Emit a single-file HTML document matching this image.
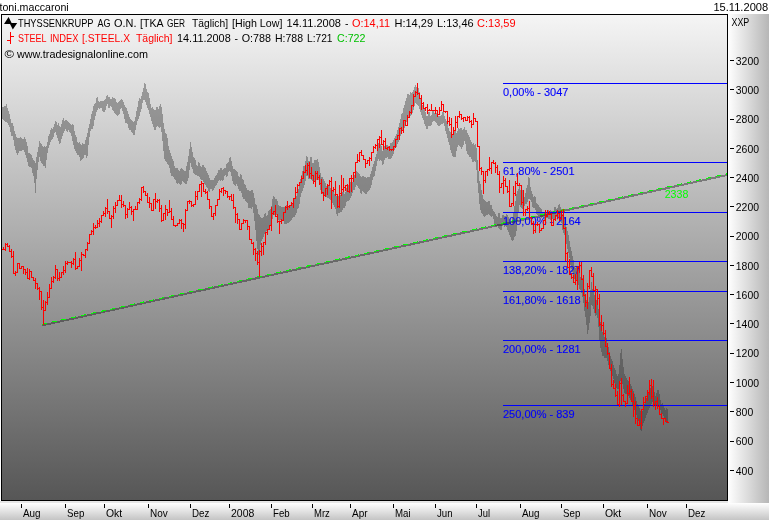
<!DOCTYPE html>
<html><head><meta charset="utf-8"><title>chart</title>
<style>
html,body{margin:0;padding:0;background:#fff;}
body{width:769px;height:520px;overflow:hidden;}
svg{display:block;will-change:transform;}
svg text{font-family:"Liberation Sans",sans-serif;font-size:11px;}
</style></head><body>
<svg width="769" height="520" viewBox="0 0 769 520">
<defs>
<linearGradient id="bg" x1="0" y1="0" x2="0" y2="1"><stop offset="0" stop-color="#f5f5f5"/><stop offset="1" stop-color="#565656"/></linearGradient>
<linearGradient id="ax" x1="0" y1="0" x2="1" y2="0"><stop offset="0" stop-color="#ffffff"/><stop offset="1" stop-color="#b6b6b6"/></linearGradient>
<linearGradient id="bx" x1="0" y1="0" x2="0" y2="1"><stop offset="0" stop-color="#ffffff"/><stop offset="1" stop-color="#c4c4c4"/></linearGradient>
<filter id="th" x="0" y="0" width="100%" height="100%" filterUnits="userSpaceOnUse" color-interpolation-filters="sRGB"><feComponentTransfer><feFuncA type="discrete" tableValues="0 0 1 1 1"/></feComponentTransfer></filter>
</defs>
<rect x="0" y="0" width="769" height="520" fill="#ffffff"/>
<rect x="728" y="14" width="41" height="489" fill="url(#ax)"/>
<rect x="0" y="501" width="728" height="2" fill="#e6e6e6"/>
<rect x="0" y="503" width="769" height="17" fill="url(#bx)"/>
<rect x="1" y="14" width="727" height="487" fill="url(#bg)"/>
<path shape-rendering="crispEdges" fill="#333" fill-opacity="0.4" d="M2,107.0 L3,107.0 L3,107.0 L4,107.0 L4,106.0 L5,106.0 L5,106.0 L6,106.0 L6,104.0 L7,104.0 L7,108.0 L8,108.0 L8,111.0 L9,111.0 L9,114.0 L10,114.0 L10,119.0 L11,119.0 L11,123.0 L12,123.0 L12,123.0 L13,123.0 L13,126.0 L14,126.0 L14,131.0 L15,131.0 L15,134.0 L16,134.0 L16,137.0 L17,137.0 L17,138.0 L18,138.0 L18,138.0 L19,138.0 L19,138.0 L20,138.0 L20,137.0 L21,137.0 L21,138.0 L22,138.0 L22,139.0 L23,139.0 L23,139.0 L24,139.0 L24,137.0 L25,137.0 L25,139.0 L26,139.0 L26,142.0 L27,142.0 L27,146.0 L28,146.0 L28,153.0 L29,153.0 L29,153.0 L30,153.0 L30,154.0 L31,154.0 L31,155.0 L32,155.0 L32,158.0 L33,158.0 L33,160.0 L34,160.0 L34,161.0 L35,161.0 L35,163.0 L36,163.0 L36,157.0 L37,157.0 L37,152.0 L38,152.0 L38,147.0 L39,147.0 L39,141.0 L40,141.0 L40,143.0 L41,143.0 L41,144.0 L42,144.0 L42,146.0 L43,146.0 L43,147.0 L44,147.0 L44,146.0 L45,146.0 L45,147.0 L46,147.0 L46,146.0 L47,146.0 L47,142.0 L48,142.0 L48,136.0 L49,136.0 L49,134.0 L50,134.0 L50,130.0 L51,130.0 L51,128.0 L52,128.0 L52,129.0 L53,129.0 L53,127.0 L54,127.0 L54,124.0 L55,124.0 L55,121.0 L56,121.0 L56,122.0 L57,122.0 L57,125.0 L58,125.0 L58,123.0 L59,123.0 L59,126.0 L60,126.0 L60,127.0 L61,127.0 L61,124.0 L62,124.0 L62,120.0 L63,120.0 L63,118.0 L64,118.0 L64,121.0 L65,121.0 L65,120.0 L66,120.0 L66,120.0 L67,120.0 L67,121.0 L68,121.0 L68,122.0 L69,122.0 L69,123.0 L70,123.0 L70,124.0 L71,124.0 L71,125.0 L72,125.0 L72,124.0 L73,124.0 L73,125.0 L74,125.0 L74,131.0 L75,131.0 L75,135.0 L76,135.0 L76,137.0 L77,137.0 L77,142.0 L78,142.0 L78,143.0 L79,143.0 L79,142.0 L80,142.0 L80,144.0 L81,144.0 L81,145.0 L82,145.0 L82,143.0 L83,143.0 L83,144.0 L84,144.0 L84,144.0 L85,144.0 L85,140.0 L86,140.0 L86,137.0 L87,137.0 L87,133.0 L88,133.0 L88,128.0 L89,128.0 L89,124.0 L90,124.0 L90,119.0 L91,119.0 L91,114.0 L92,114.0 L92,111.0 L93,111.0 L93,106.0 L94,106.0 L94,104.0 L95,104.0 L95,103.0 L96,103.0 L96,98.0 L97,98.0 L97,97.0 L98,97.0 L98,101.0 L99,101.0 L99,102.0 L100,102.0 L100,101.0 L101,101.0 L101,101.0 L102,101.0 L102,101.0 L103,101.0 L103,101.0 L104,101.0 L104,100.0 L105,100.0 L105,99.0 L106,99.0 L106,96.0 L107,96.0 L107,95.0 L108,95.0 L108,97.0 L109,97.0 L109,97.0 L110,97.0 L110,99.0 L111,99.0 L111,99.0 L112,99.0 L112,97.0 L113,97.0 L113,98.0 L114,98.0 L114,98.0 L115,98.0 L115,99.0 L116,99.0 L116,102.0 L117,102.0 L117,103.0 L118,103.0 L118,102.0 L119,102.0 L119,101.0 L120,101.0 L120,100.0 L121,100.0 L121,99.0 L122,99.0 L122,100.0 L123,100.0 L123,102.0 L124,102.0 L124,105.0 L125,105.0 L125,107.0 L126,107.0 L126,108.0 L127,108.0 L127,111.0 L128,111.0 L128,114.0 L129,114.0 L129,117.0 L130,117.0 L130,119.0 L131,119.0 L131,120.0 L132,120.0 L132,121.0 L133,121.0 L133,122.0 L134,122.0 L134,121.0 L135,121.0 L135,117.0 L136,117.0 L136,111.0 L137,111.0 L137,107.0 L138,107.0 L138,101.0 L139,101.0 L139,98.0 L140,98.0 L140,99.0 L141,99.0 L141,96.0 L142,96.0 L142,92.0 L143,92.0 L143,88.0 L144,88.0 L144,83.0 L145,83.0 L145,84.0 L146,84.0 L146,89.0 L147,89.0 L147,92.0 L148,92.0 L148,93.0 L149,93.0 L149,98.0 L150,98.0 L150,104.0 L151,104.0 L151,108.0 L152,108.0 L152,107.0 L153,107.0 L153,109.0 L154,109.0 L154,110.0 L155,110.0 L155,110.0 L156,110.0 L156,107.0 L157,107.0 L157,107.0 L158,107.0 L158,109.0 L159,109.0 L159,106.0 L160,106.0 L160,104.0 L161,104.0 L161,107.0 L162,107.0 L162,114.0 L163,114.0 L163,123.0 L164,123.0 L164,129.0 L165,129.0 L165,133.0 L166,133.0 L166,134.0 L167,134.0 L167,138.0 L168,138.0 L168,146.0 L169,146.0 L169,150.0 L170,150.0 L170,153.0 L171,153.0 L171,156.0 L172,156.0 L172,159.0 L173,159.0 L173,161.0 L174,161.0 L174,166.0 L175,166.0 L175,168.0 L176,168.0 L176,168.0 L177,168.0 L177,168.0 L178,168.0 L178,170.0 L179,170.0 L179,171.0 L180,171.0 L180,169.0 L181,169.0 L181,168.0 L182,168.0 L182,169.0 L183,169.0 L183,170.0 L184,170.0 L184,171.0 L185,171.0 L185,171.0 L186,171.0 L186,166.0 L187,166.0 L187,162.0 L188,162.0 L188,156.0 L189,156.0 L189,149.0 L190,149.0 L190,142.0 L191,142.0 L191,147.0 L192,147.0 L192,152.0 L193,152.0 L193,157.0 L194,157.0 L194,158.0 L195,158.0 L195,160.0 L196,160.0 L196,165.0 L197,165.0 L197,166.0 L198,166.0 L198,162.0 L199,162.0 L199,163.0 L200,163.0 L200,166.0 L201,166.0 L201,167.0 L202,167.0 L202,165.0 L203,165.0 L203,165.0 L204,165.0 L204,167.0 L205,167.0 L205,168.0 L206,168.0 L206,171.0 L207,171.0 L207,173.0 L208,173.0 L208,175.0 L209,175.0 L209,178.0 L210,178.0 L210,180.0 L211,180.0 L211,180.0 L212,180.0 L212,180.0 L213,180.0 L213,180.0 L214,180.0 L214,178.0 L215,178.0 L215,176.0 L216,176.0 L216,175.0 L217,175.0 L217,173.0 L218,173.0 L218,170.0 L219,170.0 L219,170.0 L220,170.0 L220,168.0 L221,168.0 L221,168.0 L222,168.0 L222,170.0 L223,170.0 L223,169.0 L224,169.0 L224,168.0 L225,168.0 L225,168.0 L226,168.0 L226,164.0 L227,164.0 L227,163.0 L228,163.0 L228,162.0 L229,162.0 L229,158.0 L230,158.0 L230,157.0 L231,157.0 L231,161.0 L232,161.0 L232,166.0 L233,166.0 L233,169.0 L234,169.0 L234,169.0 L235,169.0 L235,170.0 L236,170.0 L236,171.0 L237,171.0 L237,172.0 L238,172.0 L238,176.0 L239,176.0 L239,177.0 L240,177.0 L240,174.0 L241,174.0 L241,175.0 L242,175.0 L242,179.0 L243,179.0 L243,180.0 L244,180.0 L244,184.0 L245,184.0 L245,185.0 L246,185.0 L246,188.0 L247,188.0 L247,190.0 L248,190.0 L248,190.0 L249,190.0 L249,191.0 L250,191.0 L250,191.0 L251,191.0 L251,190.0 L252,190.0 L252,190.0 L253,190.0 L253,193.0 L254,193.0 L254,198.0 L255,198.0 L255,204.0 L256,204.0 L256,205.0 L257,205.0 L257,209.0 L258,209.0 L258,214.0 L259,214.0 L259,215.0 L260,215.0 L260,217.0 L261,217.0 L261,218.0 L262,218.0 L262,218.0 L263,218.0 L263,217.0 L264,217.0 L264,214.0 L265,214.0 L265,213.0 L266,213.0 L266,216.0 L267,216.0 L267,215.0 L268,215.0 L268,211.0 L269,211.0 L269,210.0 L270,210.0 L270,209.0 L271,209.0 L271,206.0 L272,206.0 L272,199.0 L273,199.0 L273,196.0 L274,196.0 L274,197.0 L275,197.0 L275,199.0 L276,199.0 L276,199.0 L277,199.0 L277,201.0 L278,201.0 L278,205.0 L279,205.0 L279,206.0 L280,206.0 L280,206.0 L281,206.0 L281,207.0 L282,207.0 L282,207.0 L283,207.0 L283,207.0 L284,207.0 L284,207.0 L285,207.0 L285,207.0 L286,207.0 L286,205.0 L287,205.0 L287,204.0 L288,204.0 L288,206.0 L289,206.0 L289,205.0 L290,205.0 L290,205.0 L291,205.0 L291,204.0 L292,204.0 L292,203.0 L293,203.0 L293,201.0 L294,201.0 L294,199.0 L295,199.0 L295,198.0 L296,198.0 L296,196.0 L297,196.0 L297,192.0 L298,192.0 L298,189.0 L299,189.0 L299,185.0 L300,185.0 L300,179.0 L301,179.0 L301,175.0 L302,175.0 L302,171.0 L303,171.0 L303,166.0 L304,166.0 L304,166.0 L305,166.0 L305,161.0 L306,161.0 L306,156.0 L307,156.0 L307,157.0 L308,157.0 L308,161.0 L309,161.0 L309,161.0 L310,161.0 L310,157.0 L311,157.0 L311,157.0 L312,157.0 L312,163.0 L313,163.0 L313,163.0 L314,163.0 L314,160.0 L315,160.0 L315,160.0 L316,160.0 L316,160.0 L317,160.0 L317,159.0 L318,159.0 L318,162.0 L319,162.0 L319,167.0 L320,167.0 L320,173.0 L321,173.0 L321,177.0 L322,177.0 L322,177.0 L323,177.0 L323,179.0 L324,179.0 L324,181.0 L325,181.0 L325,183.0 L326,183.0 L326,186.0 L327,186.0 L327,186.0 L328,186.0 L328,186.0 L329,186.0 L329,186.0 L330,186.0 L330,188.0 L331,188.0 L331,189.0 L332,189.0 L332,190.0 L333,190.0 L333,191.0 L334,191.0 L334,194.0 L335,194.0 L335,196.0 L336,196.0 L336,196.0 L337,196.0 L337,197.0 L338,197.0 L338,196.0 L339,196.0 L339,196.0 L340,196.0 L340,195.0 L341,195.0 L341,195.0 L342,195.0 L342,192.0 L343,192.0 L343,190.0 L344,190.0 L344,194.0 L345,194.0 L345,192.0 L346,192.0 L346,188.0 L347,188.0 L347,187.0 L348,187.0 L348,185.0 L349,185.0 L349,184.0 L350,184.0 L350,182.0 L351,182.0 L351,181.0 L352,181.0 L352,182.0 L353,182.0 L353,180.0 L354,180.0 L354,175.0 L355,175.0 L355,173.0 L356,173.0 L356,171.0 L357,171.0 L357,172.0 L358,172.0 L358,173.0 L359,173.0 L359,174.0 L360,174.0 L360,176.0 L361,176.0 L361,177.0 L362,177.0 L362,176.0 L363,176.0 L363,176.0 L364,176.0 L364,177.0 L365,177.0 L365,177.0 L366,177.0 L366,178.0 L367,178.0 L367,177.0 L368,177.0 L368,177.0 L369,177.0 L369,177.0 L370,177.0 L370,174.0 L371,174.0 L371,171.0 L372,171.0 L372,167.0 L373,167.0 L373,164.0 L374,164.0 L374,161.0 L375,161.0 L375,157.0 L376,157.0 L376,154.0 L377,154.0 L377,150.0 L378,150.0 L378,143.0 L379,143.0 L379,144.0 L380,144.0 L380,144.0 L381,144.0 L381,146.0 L382,146.0 L382,151.0 L383,151.0 L383,150.0 L384,150.0 L384,146.0 L385,146.0 L385,145.0 L386,145.0 L386,145.0 L387,145.0 L387,145.0 L388,145.0 L388,146.0 L389,146.0 L389,146.0 L390,146.0 L390,143.0 L391,143.0 L391,143.0 L392,143.0 L392,142.0 L393,142.0 L393,140.0 L394,140.0 L394,138.0 L395,138.0 L395,136.0 L396,136.0 L396,134.0 L397,134.0 L397,130.0 L398,130.0 L398,127.0 L399,127.0 L399,123.0 L400,123.0 L400,119.0 L401,119.0 L401,114.0 L402,114.0 L402,113.0 L403,113.0 L403,108.0 L404,108.0 L404,105.0 L405,105.0 L405,101.0 L406,101.0 L406,98.0 L407,98.0 L407,94.0 L408,94.0 L408,94.0 L409,94.0 L409,95.0 L410,95.0 L410,92.0 L411,92.0 L411,93.0 L412,93.0 L412,92.0 L413,92.0 L413,90.0 L414,90.0 L414,87.0 L415,87.0 L415,85.0 L416,85.0 L416,87.0 L417,87.0 L417,88.0 L418,88.0 L418,88.0 L419,88.0 L419,92.0 L420,92.0 L420,98.0 L421,98.0 L421,102.0 L422,102.0 L422,105.0 L423,105.0 L423,107.0 L424,107.0 L424,109.0 L425,109.0 L425,112.0 L426,112.0 L426,116.0 L427,116.0 L427,116.0 L428,116.0 L428,112.0 L429,112.0 L429,112.0 L430,112.0 L430,116.0 L431,116.0 L431,115.0 L432,115.0 L432,111.0 L433,111.0 L433,110.0 L434,110.0 L434,113.0 L435,113.0 L435,113.0 L436,113.0 L436,113.0 L437,113.0 L437,113.0 L438,113.0 L438,116.0 L439,116.0 L439,116.0 L440,116.0 L440,116.0 L441,116.0 L441,115.0 L442,115.0 L442,112.0 L443,112.0 L443,111.0 L444,111.0 L444,116.0 L445,116.0 L445,119.0 L446,119.0 L446,121.0 L447,121.0 L447,124.0 L448,124.0 L448,128.0 L449,128.0 L449,131.0 L450,131.0 L450,132.0 L451,132.0 L451,135.0 L452,135.0 L452,134.0 L453,134.0 L453,134.0 L454,134.0 L454,130.0 L455,130.0 L455,130.0 L456,130.0 L456,133.0 L457,133.0 L457,131.0 L458,131.0 L458,128.0 L459,128.0 L459,129.0 L460,129.0 L460,128.0 L461,128.0 L461,128.0 L462,128.0 L462,130.0 L463,130.0 L463,129.0 L464,129.0 L464,127.0 L465,127.0 L465,130.0 L466,130.0 L466,130.0 L467,130.0 L467,133.0 L468,133.0 L468,135.0 L469,135.0 L469,137.0 L470,137.0 L470,140.0 L471,140.0 L471,142.0 L472,142.0 L472,144.0 L473,144.0 L473,143.0 L474,143.0 L474,145.0 L475,145.0 L475,144.0 L476,144.0 L476,148.0 L477,148.0 L477,160.0 L478,160.0 L478,171.0 L479,171.0 L479,181.0 L480,181.0 L480,184.0 L481,184.0 L481,190.0 L482,190.0 L482,195.0 L483,195.0 L483,199.0 L484,199.0 L484,200.0 L485,200.0 L485,201.0 L486,201.0 L486,202.0 L487,202.0 L487,202.0 L488,202.0 L488,201.0 L489,201.0 L489,201.0 L490,201.0 L490,205.0 L491,205.0 L491,205.0 L492,205.0 L492,209.0 L493,209.0 L493,211.0 L494,211.0 L494,212.0 L495,212.0 L495,214.0 L496,214.0 L496,216.0 L497,216.0 L497,217.0 L498,217.0 L498,213.0 L499,213.0 L499,213.0 L500,213.0 L500,218.0 L501,218.0 L501,218.0 L502,218.0 L502,215.0 L503,215.0 L503,215.0 L504,215.0 L504,216.0 L505,216.0 L505,216.0 L506,216.0 L506,214.0 L507,214.0 L507,215.0 L508,215.0 L508,217.0 L509,217.0 L509,219.0 L510,219.0 L510,222.0 L511,222.0 L511,224.0 L512,224.0 L512,217.0 L513,217.0 L513,212.0 L514,212.0 L514,206.0 L515,206.0 L515,201.0 L516,201.0 L516,194.0 L517,194.0 L517,191.0 L518,191.0 L518,189.0 L519,189.0 L519,186.0 L520,186.0 L520,190.0 L521,190.0 L521,192.0 L522,192.0 L522,190.0 L523,190.0 L523,192.0 L524,192.0 L524,197.0 L525,197.0 L525,193.0 L526,193.0 L526,188.0 L527,188.0 L527,185.0 L528,185.0 L528,177.0 L529,177.0 L529,178.0 L530,178.0 L530,187.0 L531,187.0 L531,191.0 L532,191.0 L532,194.0 L533,194.0 L533,197.0 L534,197.0 L534,196.0 L535,196.0 L535,197.0 L536,197.0 L536,203.0 L537,203.0 L537,204.0 L538,204.0 L538,205.0 L539,205.0 L539,207.0 L540,207.0 L540,208.0 L541,208.0 L541,209.0 L542,209.0 L542,213.0 L543,213.0 L543,213.0 L544,213.0 L544,212.0 L545,212.0 L545,212.0 L546,212.0 L546,212.0 L547,212.0 L547,212.0 L548,212.0 L548,210.0 L549,210.0 L549,211.0 L550,211.0 L550,210.0 L551,210.0 L551,211.0 L552,211.0 L552,211.0 L553,211.0 L553,211.0 L554,211.0 L554,207.0 L555,207.0 L555,207.0 L556,207.0 L556,209.0 L557,209.0 L557,208.0 L558,208.0 L558,205.0 L559,205.0 L559,204.0 L560,204.0 L560,207.0 L561,207.0 L561,209.0 L562,209.0 L562,214.0 L563,214.0 L563,216.0 L564,216.0 L564,217.0 L565,217.0 L565,222.0 L566,222.0 L566,227.0 L567,227.0 L567,231.0 L568,231.0 L568,235.0 L569,235.0 L569,241.0 L570,241.0 L570,247.0 L571,247.0 L571,251.0 L572,251.0 L572,256.0 L573,256.0 L573,260.0 L574,260.0 L574,266.0 L575,266.0 L575,268.0 L576,268.0 L576,266.0 L577,266.0 L577,267.0 L578,267.0 L578,270.0 L579,270.0 L579,272.0 L580,272.0 L580,277.0 L581,277.0 L581,279.0 L582,279.0 L582,278.0 L583,278.0 L583,284.0 L584,284.0 L584,289.0 L585,289.0 L585,294.0 L586,294.0 L586,300.0 L587,300.0 L587,306.0 L588,306.0 L588,302.0 L589,302.0 L589,297.0 L590,297.0 L590,290.0 L591,290.0 L591,282.0 L592,282.0 L592,289.0 L593,289.0 L593,292.0 L594,292.0 L594,295.0 L595,295.0 L595,298.0 L596,298.0 L596,300.0 L597,300.0 L597,303.0 L598,303.0 L598,309.0 L599,309.0 L599,317.0 L600,317.0 L600,322.0 L601,322.0 L601,327.0 L602,327.0 L602,332.0 L603,332.0 L603,335.0 L604,335.0 L604,337.0 L605,337.0 L605,338.0 L606,338.0 L606,338.0 L607,338.0 L607,343.0 L608,343.0 L608,347.0 L609,347.0 L609,352.0 L610,352.0 L610,356.0 L611,356.0 L611,359.0 L612,359.0 L612,361.0 L613,361.0 L613,365.0 L614,365.0 L614,368.0 L615,368.0 L615,370.0 L616,370.0 L616,374.0 L617,374.0 L617,376.0 L618,376.0 L618,374.0 L619,374.0 L619,365.0 L620,365.0 L620,353.0 L621,353.0 L621,349.0 L622,349.0 L622,359.0 L623,359.0 L623,367.0 L624,367.0 L624,374.0 L625,374.0 L625,376.0 L626,376.0 L626,378.0 L627,378.0 L627,380.0 L628,380.0 L628,381.0 L629,381.0 L629,382.0 L630,382.0 L630,384.0 L631,384.0 L631,386.0 L632,386.0 L632,389.0 L633,389.0 L633,391.0 L634,391.0 L634,394.0 L635,394.0 L635,397.0 L636,397.0 L636,401.0 L637,401.0 L637,404.0 L638,404.0 L638,405.0 L639,405.0 L639,408.0 L640,408.0 L640,411.0 L641,411.0 L641,412.0 L642,412.0 L642,411.0 L643,411.0 L643,409.0 L644,409.0 L644,404.0 L645,404.0 L645,401.0 L646,401.0 L646,398.0 L647,398.0 L647,394.0 L648,394.0 L648,392.0 L649,392.0 L649,389.0 L650,389.0 L650,388.0 L651,388.0 L651,387.0 L652,387.0 L652,386.0 L653,386.0 L653,388.0 L654,388.0 L654,392.0 L655,392.0 L655,396.0 L656,396.0 L656,393.0 L657,393.0 L657,390.0 L658,390.0 L658,390.0 L659,390.0 L659,394.0 L660,394.0 L660,400.0 L661,400.0 L661,404.0 L662,404.0 L662,403.0 L663,403.0 L663,405.0 L664,405.0 L664,408.0 L665,408.0 L665,410.0 L666,410.0 L666,408.0 L667,408.0 L667,409.0 L668,409.0 L668,423.0 L667,423.0 L667,423.0 L666,423.0 L666,421.0 L665,421.0 L665,419.0 L664,419.0 L664,416.0 L663,416.0 L663,414.0 L662,414.0 L662,413.0 L661,413.0 L661,410.0 L660,410.0 L660,407.0 L659,407.0 L659,405.0 L658,405.0 L658,405.0 L657,405.0 L657,406.0 L656,406.0 L656,406.0 L655,406.0 L655,404.0 L654,404.0 L654,402.0 L653,402.0 L653,402.0 L652,402.0 L652,404.0 L651,404.0 L651,406.0 L650,406.0 L650,408.0 L649,408.0 L649,410.0 L648,410.0 L648,413.0 L647,413.0 L647,415.0 L646,415.0 L646,418.0 L645,418.0 L645,421.0 L644,421.0 L644,423.0 L643,423.0 L643,426.0 L642,426.0 L642,431.0 L641,431.0 L641,430.0 L640,430.0 L640,424.0 L639,424.0 L639,421.0 L638,421.0 L638,418.0 L637,418.0 L637,415.0 L636,415.0 L636,413.0 L635,413.0 L635,410.0 L634,410.0 L634,407.0 L633,407.0 L633,405.0 L632,405.0 L632,402.0 L631,402.0 L631,400.0 L630,400.0 L630,398.0 L629,398.0 L629,396.0 L628,396.0 L628,395.0 L627,395.0 L627,394.0 L626,394.0 L626,394.0 L625,394.0 L625,393.0 L624,393.0 L624,389.0 L623,389.0 L623,384.0 L622,384.0 L622,380.0 L621,380.0 L621,381.0 L620,381.0 L620,386.0 L619,386.0 L619,389.0 L618,389.0 L618,389.0 L617,389.0 L617,388.0 L616,388.0 L616,385.0 L615,385.0 L615,383.0 L614,383.0 L614,379.0 L613,379.0 L613,376.0 L612,376.0 L612,374.0 L611,374.0 L611,371.0 L610,371.0 L610,368.0 L609,368.0 L609,365.0 L608,365.0 L608,361.0 L607,361.0 L607,358.0 L606,358.0 L606,358.0 L605,358.0 L605,358.0 L604,358.0 L604,356.0 L603,356.0 L603,356.0 L602,356.0 L602,352.0 L601,352.0 L601,348.0 L600,348.0 L600,341.0 L599,341.0 L599,327.0 L598,327.0 L598,318.0 L597,318.0 L597,315.0 L596,315.0 L596,316.0 L595,316.0 L595,313.0 L594,313.0 L594,309.0 L593,309.0 L593,306.0 L592,306.0 L592,305.0 L591,305.0 L591,316.0 L590,316.0 L590,323.0 L589,323.0 L589,330.0 L588,330.0 L588,334.0 L587,334.0 L587,325.0 L586,325.0 L586,317.0 L585,317.0 L585,311.0 L584,311.0 L584,303.0 L583,303.0 L583,297.0 L582,297.0 L582,293.0 L581,293.0 L581,290.0 L580,290.0 L580,289.0 L579,289.0 L579,285.0 L578,285.0 L578,283.0 L577,283.0 L577,281.0 L576,281.0 L576,280.0 L575,280.0 L575,279.0 L574,279.0 L574,276.0 L573,276.0 L573,272.0 L572,272.0 L572,269.0 L571,269.0 L571,265.0 L570,265.0 L570,258.0 L569,258.0 L569,253.0 L568,253.0 L568,249.0 L567,249.0 L567,244.0 L566,244.0 L566,240.0 L565,240.0 L565,235.0 L564,235.0 L564,233.0 L563,233.0 L563,230.0 L562,230.0 L562,223.0 L561,223.0 L561,220.0 L560,220.0 L560,217.0 L559,217.0 L559,217.0 L558,217.0 L558,217.0 L557,217.0 L557,217.0 L556,217.0 L556,219.0 L555,219.0 L555,219.0 L554,219.0 L554,219.0 L553,219.0 L553,219.0 L552,219.0 L552,220.0 L551,220.0 L551,220.0 L550,220.0 L550,219.0 L549,219.0 L549,219.0 L548,219.0 L548,218.0 L547,218.0 L547,218.0 L546,218.0 L546,220.0 L545,220.0 L545,220.0 L544,220.0 L544,217.0 L543,217.0 L543,217.0 L542,217.0 L542,218.0 L541,218.0 L541,217.0 L540,217.0 L540,215.0 L539,215.0 L539,215.0 L538,215.0 L538,215.0 L537,215.0 L537,214.0 L536,214.0 L536,210.0 L535,210.0 L535,208.0 L534,208.0 L534,208.0 L533,208.0 L533,207.0 L532,207.0 L532,202.0 L531,202.0 L531,200.0 L530,200.0 L530,199.0 L529,199.0 L529,199.0 L528,199.0 L528,202.0 L527,202.0 L527,204.0 L526,204.0 L526,204.0 L525,204.0 L525,206.0 L524,206.0 L524,209.0 L523,209.0 L523,209.0 L522,209.0 L522,208.0 L521,208.0 L521,207.0 L520,207.0 L520,205.0 L519,205.0 L519,213.0 L518,213.0 L518,221.0 L517,221.0 L517,231.0 L516,231.0 L516,236.0 L515,236.0 L515,237.0 L514,237.0 L514,240.0 L513,240.0 L513,241.0 L512,241.0 L512,240.0 L511,240.0 L511,237.0 L510,237.0 L510,235.0 L509,235.0 L509,232.0 L508,232.0 L508,230.0 L507,230.0 L507,227.0 L506,227.0 L506,226.0 L505,226.0 L505,227.0 L504,227.0 L504,225.0 L503,225.0 L503,226.0 L502,226.0 L502,230.0 L501,230.0 L501,230.0 L500,230.0 L500,229.0 L499,229.0 L499,228.0 L498,228.0 L498,226.0 L497,226.0 L497,226.0 L496,226.0 L496,226.0 L495,226.0 L495,224.0 L494,224.0 L494,219.0 L493,219.0 L493,216.0 L492,216.0 L492,217.0 L491,217.0 L491,216.0 L490,216.0 L490,215.0 L489,215.0 L489,214.0 L488,214.0 L488,215.0 L487,215.0 L487,215.0 L486,215.0 L486,216.0 L485,216.0 L485,217.0 L484,217.0 L484,216.0 L483,216.0 L483,214.0 L482,214.0 L482,213.0 L481,213.0 L481,210.0 L480,210.0 L480,204.0 L479,204.0 L479,193.0 L478,193.0 L478,183.0 L477,183.0 L477,170.0 L476,170.0 L476,162.0 L475,162.0 L475,161.0 L474,161.0 L474,162.0 L473,162.0 L473,162.0 L472,162.0 L472,159.0 L471,159.0 L471,157.0 L470,157.0 L470,157.0 L469,157.0 L469,155.0 L468,155.0 L468,154.0 L467,154.0 L467,151.0 L466,151.0 L466,144.0 L465,144.0 L465,141.0 L464,141.0 L464,145.0 L463,145.0 L463,147.0 L462,147.0 L462,149.0 L461,149.0 L461,147.0 L460,147.0 L460,146.0 L459,146.0 L459,145.0 L458,145.0 L458,147.0 L457,147.0 L457,151.0 L456,151.0 L456,157.0 L455,157.0 L455,157.0 L454,157.0 L454,157.0 L453,157.0 L453,156.0 L452,156.0 L452,153.0 L451,153.0 L451,150.0 L450,150.0 L450,145.0 L449,145.0 L449,142.0 L448,142.0 L448,138.0 L447,138.0 L447,134.0 L446,134.0 L446,131.0 L445,131.0 L445,126.0 L444,126.0 L444,123.0 L443,123.0 L443,124.0 L442,124.0 L442,124.0 L441,124.0 L441,125.0 L440,125.0 L440,126.0 L439,126.0 L439,126.0 L438,126.0 L438,125.0 L437,125.0 L437,123.0 L436,123.0 L436,122.0 L435,122.0 L435,121.0 L434,121.0 L434,121.0 L433,121.0 L433,122.0 L432,122.0 L432,125.0 L431,125.0 L431,126.0 L430,126.0 L430,126.0 L429,126.0 L429,126.0 L428,126.0 L428,129.0 L427,129.0 L427,129.0 L426,129.0 L426,126.0 L425,126.0 L425,124.0 L424,124.0 L424,120.0 L423,120.0 L423,118.0 L422,118.0 L422,115.0 L421,115.0 L421,112.0 L420,112.0 L420,109.0 L419,109.0 L419,106.0 L418,106.0 L418,105.0 L417,105.0 L417,104.0 L416,104.0 L416,103.0 L415,103.0 L415,106.0 L414,106.0 L414,110.0 L413,110.0 L413,113.0 L412,113.0 L412,115.0 L411,115.0 L411,116.0 L410,116.0 L410,116.0 L409,116.0 L409,117.0 L408,117.0 L408,120.0 L407,120.0 L407,122.0 L406,122.0 L406,125.0 L405,125.0 L405,128.0 L404,128.0 L404,129.0 L403,129.0 L403,131.0 L402,131.0 L402,134.0 L401,134.0 L401,136.0 L400,136.0 L400,139.0 L399,139.0 L399,142.0 L398,142.0 L398,144.0 L397,144.0 L397,147.0 L396,147.0 L396,148.0 L395,148.0 L395,150.0 L394,150.0 L394,154.0 L393,154.0 L393,156.0 L392,156.0 L392,158.0 L391,158.0 L391,159.0 L390,159.0 L390,159.0 L389,159.0 L389,159.0 L388,159.0 L388,157.0 L387,157.0 L387,158.0 L386,158.0 L386,158.0 L385,158.0 L385,160.0 L384,160.0 L384,164.0 L383,164.0 L383,165.0 L382,165.0 L382,161.0 L381,161.0 L381,160.0 L380,160.0 L380,161.0 L379,161.0 L379,159.0 L378,159.0 L378,161.0 L377,161.0 L377,166.0 L376,166.0 L376,171.0 L375,171.0 L375,176.0 L374,176.0 L374,177.0 L373,177.0 L373,180.0 L372,180.0 L372,185.0 L371,185.0 L371,188.0 L370,188.0 L370,190.0 L369,190.0 L369,191.0 L368,191.0 L368,192.0 L367,192.0 L367,194.0 L366,194.0 L366,194.0 L365,194.0 L365,193.0 L364,193.0 L364,192.0 L363,192.0 L363,191.0 L362,191.0 L362,194.0 L361,194.0 L361,193.0 L360,193.0 L360,189.0 L359,189.0 L359,188.0 L358,188.0 L358,186.0 L357,186.0 L357,185.0 L356,185.0 L356,187.0 L355,187.0 L355,190.0 L354,190.0 L354,190.0 L353,190.0 L353,193.0 L352,193.0 L352,196.0 L351,196.0 L351,198.0 L350,198.0 L350,200.0 L349,200.0 L349,201.0 L348,201.0 L348,201.0 L347,201.0 L347,202.0 L346,202.0 L346,206.0 L345,206.0 L345,208.0 L344,208.0 L344,208.0 L343,208.0 L343,210.0 L342,210.0 L342,212.0 L341,212.0 L341,212.0 L340,212.0 L340,213.0 L339,213.0 L339,213.0 L338,213.0 L338,216.0 L337,216.0 L337,214.0 L336,214.0 L336,209.0 L335,209.0 L335,207.0 L334,207.0 L334,205.0 L333,205.0 L333,203.0 L332,203.0 L332,201.0 L331,201.0 L331,200.0 L330,200.0 L330,199.0 L329,199.0 L329,198.0 L328,198.0 L328,198.0 L327,198.0 L327,197.0 L326,197.0 L326,196.0 L325,196.0 L325,195.0 L324,195.0 L324,195.0 L323,195.0 L323,194.0 L322,194.0 L322,194.0 L321,194.0 L321,190.0 L320,190.0 L320,184.0 L319,184.0 L319,180.0 L318,180.0 L318,179.0 L317,179.0 L317,180.0 L316,180.0 L316,182.0 L315,182.0 L315,182.0 L314,182.0 L314,181.0 L313,181.0 L313,181.0 L312,181.0 L312,180.0 L311,180.0 L311,179.0 L310,179.0 L310,179.0 L309,179.0 L309,179.0 L308,179.0 L308,176.0 L307,176.0 L307,176.0 L306,176.0 L306,181.0 L305,181.0 L305,185.0 L304,185.0 L304,188.0 L303,188.0 L303,191.0 L302,191.0 L302,193.0 L301,193.0 L301,197.0 L300,197.0 L300,204.0 L299,204.0 L299,208.0 L298,208.0 L298,209.0 L297,209.0 L297,213.0 L296,213.0 L296,215.0 L295,215.0 L295,217.0 L294,217.0 L294,217.0 L293,217.0 L293,218.0 L292,218.0 L292,220.0 L291,220.0 L291,221.0 L290,221.0 L290,222.0 L289,222.0 L289,223.0 L288,223.0 L288,223.0 L287,223.0 L287,224.0 L286,224.0 L286,224.0 L285,224.0 L285,224.0 L284,224.0 L284,221.0 L283,221.0 L283,221.0 L282,221.0 L282,221.0 L281,221.0 L281,220.0 L280,220.0 L280,221.0 L279,221.0 L279,220.0 L278,220.0 L278,216.0 L277,216.0 L277,215.0 L276,215.0 L276,217.0 L275,217.0 L275,215.0 L274,215.0 L274,215.0 L273,215.0 L273,219.0 L272,219.0 L272,222.0 L271,222.0 L271,226.0 L270,226.0 L270,229.0 L269,229.0 L269,230.0 L268,230.0 L268,230.0 L267,230.0 L267,231.0 L266,231.0 L266,232.0 L265,232.0 L265,234.0 L264,234.0 L264,237.0 L263,237.0 L263,239.0 L262,239.0 L262,241.0 L261,241.0 L261,245.0 L260,245.0 L260,251.0 L259,251.0 L259,255.0 L258,255.0 L258,249.0 L257,249.0 L257,241.0 L256,241.0 L256,230.0 L255,230.0 L255,221.0 L254,221.0 L254,213.0 L253,213.0 L253,207.0 L252,207.0 L252,209.0 L251,209.0 L251,208.0 L250,208.0 L250,208.0 L249,208.0 L249,208.0 L248,208.0 L248,203.0 L247,203.0 L247,202.0 L246,202.0 L246,201.0 L245,201.0 L245,199.0 L244,199.0 L244,199.0 L243,199.0 L243,197.0 L242,197.0 L242,193.0 L241,193.0 L241,191.0 L240,191.0 L240,191.0 L239,191.0 L239,189.0 L238,189.0 L238,186.0 L237,186.0 L237,184.0 L236,184.0 L236,186.0 L235,186.0 L235,185.0 L234,185.0 L234,184.0 L233,184.0 L233,181.0 L232,181.0 L232,176.0 L231,176.0 L231,172.0 L230,172.0 L230,171.0 L229,171.0 L229,172.0 L228,172.0 L228,176.0 L227,176.0 L227,177.0 L226,177.0 L226,175.0 L225,175.0 L225,176.0 L224,176.0 L224,180.0 L223,180.0 L223,181.0 L222,181.0 L222,180.0 L221,180.0 L221,181.0 L220,181.0 L220,180.0 L219,180.0 L219,181.0 L218,181.0 L218,183.0 L217,183.0 L217,185.0 L216,185.0 L216,186.0 L215,186.0 L215,188.0 L214,188.0 L214,190.0 L213,190.0 L213,191.0 L212,191.0 L212,189.0 L211,189.0 L211,189.0 L210,189.0 L210,192.0 L209,192.0 L209,191.0 L208,191.0 L208,188.0 L207,188.0 L207,187.0 L206,187.0 L206,185.0 L205,185.0 L205,184.0 L204,184.0 L204,182.0 L203,182.0 L203,180.0 L202,180.0 L202,180.0 L201,180.0 L201,179.0 L200,179.0 L200,177.0 L199,177.0 L199,176.0 L198,176.0 L198,176.0 L197,176.0 L197,175.0 L196,175.0 L196,175.0 L195,175.0 L195,174.0 L194,174.0 L194,173.0 L193,173.0 L193,169.0 L192,169.0 L192,167.0 L191,167.0 L191,163.0 L190,163.0 L190,170.0 L189,170.0 L189,178.0 L188,178.0 L188,181.0 L187,181.0 L187,184.0 L186,184.0 L186,184.0 L185,184.0 L185,183.0 L184,183.0 L184,182.0 L183,182.0 L183,181.0 L182,181.0 L182,184.0 L181,184.0 L181,185.0 L180,185.0 L180,184.0 L179,184.0 L179,183.0 L178,183.0 L178,184.0 L177,184.0 L177,183.0 L176,183.0 L176,180.0 L175,180.0 L175,179.0 L174,179.0 L174,177.0 L173,177.0 L173,176.0 L172,176.0 L172,176.0 L171,176.0 L171,173.0 L170,173.0 L170,168.0 L169,168.0 L169,165.0 L168,165.0 L168,164.0 L167,164.0 L167,162.0 L166,162.0 L166,161.0 L165,161.0 L165,159.0 L164,159.0 L164,151.0 L163,151.0 L163,141.0 L162,141.0 L162,132.0 L161,132.0 L161,127.0 L160,127.0 L160,128.0 L159,128.0 L159,127.0 L158,127.0 L158,126.0 L157,126.0 L157,127.0 L156,127.0 L156,130.0 L155,130.0 L155,130.0 L154,130.0 L154,127.0 L153,127.0 L153,124.0 L152,124.0 L152,121.0 L151,121.0 L151,117.0 L150,117.0 L150,114.0 L149,114.0 L149,110.0 L148,110.0 L148,108.0 L147,108.0 L147,105.0 L146,105.0 L146,102.0 L145,102.0 L145,100.0 L144,100.0 L144,100.0 L143,100.0 L143,103.0 L142,103.0 L142,109.0 L141,109.0 L141,112.0 L140,112.0 L140,116.0 L139,116.0 L139,119.0 L138,119.0 L138,121.0 L137,121.0 L137,125.0 L136,125.0 L136,130.0 L135,130.0 L135,135.0 L134,135.0 L134,135.0 L133,135.0 L133,133.0 L132,133.0 L132,132.0 L131,132.0 L131,130.0 L130,130.0 L130,130.0 L129,130.0 L129,128.0 L128,128.0 L128,124.0 L127,124.0 L127,123.0 L126,123.0 L126,123.0 L125,123.0 L125,119.0 L124,119.0 L124,114.0 L123,114.0 L123,111.0 L122,111.0 L122,108.0 L121,108.0 L121,109.0 L120,109.0 L120,114.0 L119,114.0 L119,115.0 L118,115.0 L118,116.0 L117,116.0 L117,115.0 L116,115.0 L116,114.0 L115,114.0 L115,113.0 L114,113.0 L114,111.0 L113,111.0 L113,110.0 L112,110.0 L112,107.0 L111,107.0 L111,106.0 L110,106.0 L110,108.0 L109,108.0 L109,108.0 L108,108.0 L108,104.0 L107,104.0 L107,106.0 L106,106.0 L106,110.0 L105,110.0 L105,112.0 L104,112.0 L104,112.0 L103,112.0 L103,111.0 L102,111.0 L102,108.0 L101,108.0 L101,108.0 L100,108.0 L100,109.0 L99,109.0 L99,108.0 L98,108.0 L98,110.0 L97,110.0 L97,112.0 L96,112.0 L96,116.0 L95,116.0 L95,120.0 L94,120.0 L94,126.0 L93,126.0 L93,129.0 L92,129.0 L92,129.0 L91,129.0 L91,131.0 L90,131.0 L90,137.0 L89,137.0 L89,145.0 L88,145.0 L88,156.0 L87,156.0 L87,158.0 L86,158.0 L86,155.0 L85,155.0 L85,155.0 L84,155.0 L84,158.0 L83,158.0 L83,159.0 L82,159.0 L82,160.0 L81,160.0 L81,161.0 L80,161.0 L80,157.0 L79,157.0 L79,155.0 L78,155.0 L78,155.0 L77,155.0 L77,153.0 L76,153.0 L76,151.0 L75,151.0 L75,149.0 L74,149.0 L74,145.0 L73,145.0 L73,141.0 L72,141.0 L72,136.0 L71,136.0 L71,133.0 L70,133.0 L70,132.0 L69,132.0 L69,130.0 L68,130.0 L68,132.0 L67,132.0 L67,131.0 L66,131.0 L66,129.0 L65,129.0 L65,131.0 L64,131.0 L64,133.0 L63,133.0 L63,136.0 L62,136.0 L62,139.0 L61,139.0 L61,143.0 L60,143.0 L60,144.0 L59,144.0 L59,141.0 L58,141.0 L58,138.0 L57,138.0 L57,135.0 L56,135.0 L56,132.0 L55,132.0 L55,133.0 L54,133.0 L54,137.0 L53,137.0 L53,139.0 L52,139.0 L52,140.0 L51,140.0 L51,142.0 L50,142.0 L50,145.0 L49,145.0 L49,148.0 L48,148.0 L48,153.0 L47,153.0 L47,160.0 L46,160.0 L46,168.0 L45,168.0 L45,166.0 L44,166.0 L44,166.0 L43,166.0 L43,164.0 L42,164.0 L42,163.0 L41,163.0 L41,161.0 L40,161.0 L40,157.0 L39,157.0 L39,162.0 L38,162.0 L38,170.0 L37,170.0 L37,179.0 L36,179.0 L36,193.0 L35,193.0 L35,183.0 L34,183.0 L34,176.0 L33,176.0 L33,173.0 L32,173.0 L32,168.0 L31,168.0 L31,167.0 L30,167.0 L30,167.0 L29,167.0 L29,166.0 L28,166.0 L28,162.0 L27,162.0 L27,158.0 L26,158.0 L26,155.0 L25,155.0 L25,152.0 L24,152.0 L24,150.0 L23,150.0 L23,150.0 L22,150.0 L22,151.0 L21,151.0 L21,151.0 L20,151.0 L20,151.0 L19,151.0 L19,153.0 L18,153.0 L18,155.0 L17,155.0 L17,153.0 L16,153.0 L16,150.0 L15,150.0 L15,146.0 L14,146.0 L14,140.0 L13,140.0 L13,136.0 L12,136.0 L12,136.0 L11,136.0 L11,132.0 L10,132.0 L10,127.0 L9,127.0 L9,125.0 L8,125.0 L8,123.0 L7,123.0 L7,122.0 L6,122.0 L6,122.0 L5,122.0 L5,121.0 L4,121.0 L4,120.0 L3,120.0 L3,119.0 L2,119.0Z"/>
<g shape-rendering="crispEdges"><line x1="42" y1="325.40000000000003" x2="727" y2="175.0" stroke="#000" stroke-opacity="0.36" stroke-width="2"/><line x1="42" y1="324.3" x2="727" y2="173.89999999999998" stroke="#00ff00" stroke-width="1" stroke-dasharray="5 5"/></g>
<g shape-rendering="crispEdges" stroke="#0000ff" stroke-width="1"><line x1="503" y1="83.5" x2="727" y2="83.5"/><line x1="503" y1="162.5" x2="727" y2="162.5"/><line x1="503" y1="212.5" x2="727" y2="212.5"/><line x1="503" y1="261.5" x2="727" y2="261.5"/><line x1="503" y1="291.5" x2="727" y2="291.5"/><line x1="503" y1="340.5" x2="727" y2="340.5"/><line x1="503" y1="405.5" x2="727" y2="405.5"/></g>
<g fill="#0000ff" stroke="#0000ff" stroke-width="0.12"><text x="503" y="96">0,00% - 3047</text><text x="503" y="175">61,80% - 2501</text><text x="503" y="225">100,00% - 2164</text><text x="503" y="274">138,20% - 1827</text><text x="503" y="304">161,80% - 1618</text><text x="503" y="353">200,00% - 1281</text><text x="503" y="418">250,00% - 839</text></g>
<path shape-rendering="crispEdges" fill="none" stroke="#ff0000" stroke-width="1" d="M3.5,247V250M2,249.5h1.5M3.5,249.5h1.5M5.5,243V251M4,249.5h1.5M5.5,244.5h1.5M7.5,243V247M6,244.5h1.5M7.5,246.5h1.5M9.5,245V252M8,246.5h1.5M9.5,251.5h1.5M11.5,249V258M10,251.5h1.5M11.5,256.5h1.5M13.5,251V274M12,256.5h1.5M13.5,273.5h1.5M15.5,271V276M14,273.5h1.5M15.5,272.5h1.5M17.5,263V273M16,272.5h1.5M17.5,263.5h1.5M19.5,263V269M18,263.5h1.5M19.5,268.5h1.5M21.5,266V269M20,268.5h1.5M21.5,266.5h1.5M23.5,266V274M22,266.5h1.5M23.5,269.5h1.5M25.5,269V275M24,269.5h1.5M25.5,272.5h1.5M27.5,268V279M26,272.5h1.5M27.5,278.5h1.5M29.5,269V280M28,278.5h1.5M29.5,271.5h1.5M31.5,271V278M30,271.5h1.5M31.5,277.5h1.5M33.5,277V281M32,277.5h1.5M33.5,280.5h1.5M35.5,278V289M34,280.5h1.5M35.5,283.5h1.5M37.5,283V290M36,283.5h1.5M37.5,288.5h1.5M39.5,287V300M38,288.5h1.5M39.5,291.5h1.5M41.5,291V310M40,291.5h1.5M41.5,307.5h1.5M43.5,300V325M42,307.5h1.5M43.5,310.5h1.5M45.5,301V311M44,310.5h1.5M45.5,302.5h1.5M47.5,292V305M46,302.5h1.5M47.5,297.5h1.5M49.5,284V298M48,297.5h1.5M49.5,288.5h1.5M51.5,277V289M50,288.5h1.5M51.5,281.5h1.5M53.5,276V283M52,281.5h1.5M53.5,277.5h1.5M55.5,265V279M54,277.5h1.5M55.5,269.5h1.5M57.5,269V281M56,269.5h1.5M57.5,278.5h1.5M59.5,272V281M58,278.5h1.5M59.5,277.5h1.5M61.5,272V278M60,277.5h1.5M61.5,272.5h1.5M63.5,266V275M62,272.5h1.5M63.5,270.5h1.5M65.5,261V273M64,270.5h1.5M65.5,263.5h1.5M67.5,261V265M66,263.5h1.5M67.5,262.5h1.5M69.5,262V263M68,262.5h1.5M69.5,262.5h1.5M71.5,261V268M70,262.5h1.5M71.5,263.5h1.5M73.5,258V265M72,263.5h1.5M73.5,259.5h1.5M75.5,252V270M74,259.5h1.5M75.5,268.5h1.5M77.5,266V269M76,268.5h1.5M77.5,266.5h1.5M79.5,258V267M78,266.5h1.5M79.5,260.5h1.5M81.5,252V271M80,260.5h1.5M81.5,254.5h1.5M83.5,254V256M82,254.5h1.5M83.5,255.5h1.5M85.5,249V258M84,255.5h1.5M85.5,249.5h1.5M87.5,242V251M86,249.5h1.5M87.5,243.5h1.5M89.5,234V244M88,243.5h1.5M89.5,234.5h1.5M91.5,230V235M90,234.5h1.5M91.5,231.5h1.5M93.5,223V235M92,231.5h1.5M93.5,227.5h1.5M95.5,225V229M94,227.5h1.5M95.5,227.5h1.5M97.5,220V228M96,227.5h1.5M97.5,223.5h1.5M99.5,218V227M98,223.5h1.5M99.5,221.5h1.5M101.5,215V223M100,221.5h1.5M101.5,215.5h1.5M103.5,211V216M102,215.5h1.5M103.5,213.5h1.5M105.5,207V217M104,213.5h1.5M105.5,208.5h1.5M107.5,199V214M106,208.5h1.5M107.5,211.5h1.5M109.5,211V219M108,211.5h1.5M109.5,218.5h1.5M111.5,215V228M110,218.5h1.5M111.5,216.5h1.5M113.5,206V219M112,216.5h1.5M113.5,208.5h1.5M115.5,202V213M114,208.5h1.5M115.5,205.5h1.5M117.5,200V206M116,205.5h1.5M117.5,200.5h1.5M119.5,195V201M118,200.5h1.5M119.5,200.5h1.5M121.5,195V208M120,200.5h1.5M121.5,204.5h1.5M123.5,201V207M122,204.5h1.5M123.5,205.5h1.5M125.5,205V219M124,205.5h1.5M125.5,214.5h1.5M127.5,208V218M126,214.5h1.5M127.5,209.5h1.5M129.5,202V210M128,209.5h1.5M129.5,207.5h1.5M131.5,206V215M130,207.5h1.5M131.5,211.5h1.5M133.5,209V221M132,211.5h1.5M133.5,209.5h1.5M135.5,206V210M134,209.5h1.5M135.5,209.5h1.5M137.5,202V210M136,209.5h1.5M137.5,202.5h1.5M139.5,198V204M138,202.5h1.5M139.5,199.5h1.5M141.5,187V201M140,199.5h1.5M141.5,187.5h1.5M143.5,186V193M142,187.5h1.5M143.5,191.5h1.5M145.5,191V196M144,191.5h1.5M145.5,195.5h1.5M147.5,193V203M146,195.5h1.5M147.5,202.5h1.5M149.5,197V208M148,202.5h1.5M149.5,203.5h1.5M151.5,203V211M150,203.5h1.5M151.5,210.5h1.5M153.5,199V211M152,210.5h1.5M153.5,199.5h1.5M155.5,193V209M154,199.5h1.5M155.5,201.5h1.5M157.5,199V203M156,201.5h1.5M157.5,200.5h1.5M159.5,199V212M158,200.5h1.5M159.5,208.5h1.5M161.5,205V222M160,208.5h1.5M161.5,220.5h1.5M163.5,213V221M162,220.5h1.5M163.5,213.5h1.5M165.5,205V220M164,213.5h1.5M165.5,209.5h1.5M167.5,209V216M166,209.5h1.5M167.5,212.5h1.5M169.5,200V213M168,212.5h1.5M169.5,211.5h1.5M171.5,208V220M170,211.5h1.5M171.5,219.5h1.5M173.5,216V226M172,219.5h1.5M173.5,225.5h1.5M175.5,225V227M174,225.5h1.5M175.5,225.5h1.5M177.5,223V226M176,225.5h1.5M177.5,223.5h1.5M179.5,219V224M178,223.5h1.5M179.5,220.5h1.5M181.5,219V229M180,220.5h1.5M181.5,223.5h1.5M183.5,223V232M182,223.5h1.5M183.5,224.5h1.5M185.5,209V229M184,224.5h1.5M185.5,210.5h1.5M187.5,201V211M186,210.5h1.5M187.5,201.5h1.5M189.5,200V204M188,201.5h1.5M189.5,201.5h1.5M191.5,201V207M190,201.5h1.5M191.5,205.5h1.5M193.5,204V207M192,205.5h1.5M193.5,204.5h1.5M195.5,191V205M194,204.5h1.5M195.5,196.5h1.5M197.5,191V200M196,196.5h1.5M197.5,191.5h1.5M199.5,184V192M198,191.5h1.5M199.5,184.5h1.5M201.5,181V197M200,184.5h1.5M201.5,183.5h1.5M203.5,183V192M202,183.5h1.5M203.5,191.5h1.5M205.5,189V194M204,191.5h1.5M205.5,192.5h1.5M207.5,191V200M206,192.5h1.5M207.5,199.5h1.5M209.5,199V209M208,199.5h1.5M209.5,206.5h1.5M211.5,206V217M210,206.5h1.5M211.5,216.5h1.5M213.5,213V220M212,216.5h1.5M213.5,213.5h1.5M215.5,205V216M214,213.5h1.5M215.5,205.5h1.5M217.5,199V206M216,205.5h1.5M217.5,199.5h1.5M219.5,189V200M218,199.5h1.5M219.5,191.5h1.5M221.5,188V193M220,191.5h1.5M221.5,188.5h1.5M223.5,187V196M222,188.5h1.5M223.5,190.5h1.5M225.5,190V194M224,190.5h1.5M225.5,191.5h1.5M227.5,191V198M226,191.5h1.5M227.5,196.5h1.5M229.5,196V200M228,196.5h1.5M229.5,196.5h1.5M231.5,194V201M230,196.5h1.5M231.5,200.5h1.5M233.5,194V209M232,200.5h1.5M233.5,207.5h1.5M235.5,207V223M234,207.5h1.5M235.5,214.5h1.5M237.5,213V224M236,214.5h1.5M237.5,219.5h1.5M239.5,219V230M238,219.5h1.5M239.5,229.5h1.5M241.5,223V230M240,229.5h1.5M241.5,223.5h1.5M243.5,219V224M242,223.5h1.5M243.5,220.5h1.5M245.5,220V223M244,220.5h1.5M245.5,220.5h1.5M247.5,220V230M246,220.5h1.5M247.5,226.5h1.5M249.5,226V240M248,226.5h1.5M249.5,239.5h1.5M251.5,239V244M250,239.5h1.5M251.5,243.5h1.5M253.5,242V255M252,243.5h1.5M253.5,249.5h1.5M255.5,248V261M254,249.5h1.5M255.5,253.5h1.5M257.5,251V265M256,253.5h1.5M257.5,262.5h1.5M259.5,250V277M258,262.5h1.5M259.5,251.5h1.5M261.5,243V256M260,251.5h1.5M261.5,246.5h1.5M263.5,242V255M262,246.5h1.5M263.5,242.5h1.5M265.5,232V245M264,242.5h1.5M265.5,232.5h1.5M267.5,229V235M266,232.5h1.5M267.5,229.5h1.5M269.5,225V230M268,229.5h1.5M269.5,225.5h1.5M271.5,207V231M270,225.5h1.5M271.5,213.5h1.5M273.5,211V215M272,213.5h1.5M273.5,211.5h1.5M275.5,205V217M274,211.5h1.5M275.5,216.5h1.5M277.5,214V223M276,216.5h1.5M277.5,221.5h1.5M279.5,221V234M278,221.5h1.5M279.5,221.5h1.5M281.5,219V224M280,221.5h1.5M281.5,220.5h1.5M283.5,212V221M282,220.5h1.5M283.5,212.5h1.5M285.5,206V213M284,212.5h1.5M285.5,207.5h1.5M287.5,201V210M286,207.5h1.5M287.5,206.5h1.5M289.5,205V208M288,206.5h1.5M289.5,205.5h1.5M291.5,202V206M290,205.5h1.5M291.5,203.5h1.5M293.5,198V208M292,203.5h1.5M293.5,198.5h1.5M295.5,187V199M294,198.5h1.5M295.5,192.5h1.5M297.5,184V193M296,192.5h1.5M297.5,185.5h1.5M299.5,182V186M298,185.5h1.5M299.5,182.5h1.5M301.5,176V183M300,182.5h1.5M301.5,178.5h1.5M303.5,171V179M302,178.5h1.5M303.5,172.5h1.5M305.5,165V173M304,172.5h1.5M305.5,170.5h1.5M307.5,163V175M306,170.5h1.5M307.5,165.5h1.5M309.5,162V178M308,165.5h1.5M309.5,173.5h1.5M311.5,167V179M310,173.5h1.5M311.5,175.5h1.5M313.5,175V184M312,175.5h1.5M313.5,181.5h1.5M315.5,171V187M314,181.5h1.5M315.5,173.5h1.5M317.5,171V180M316,173.5h1.5M317.5,177.5h1.5M319.5,175V185M318,177.5h1.5M319.5,183.5h1.5M321.5,179V194M320,183.5h1.5M321.5,192.5h1.5M323.5,192V201M322,192.5h1.5M323.5,195.5h1.5M325.5,188V197M324,195.5h1.5M325.5,188.5h1.5M327.5,184V195M326,188.5h1.5M327.5,185.5h1.5M329.5,180V186M328,185.5h1.5M329.5,181.5h1.5M331.5,177V209M330,181.5h1.5M331.5,190.5h1.5M333.5,187V192M332,190.5h1.5M333.5,189.5h1.5M335.5,181V196M334,189.5h1.5M335.5,194.5h1.5M337.5,194V208M336,194.5h1.5M337.5,206.5h1.5M339.5,185V208M338,206.5h1.5M339.5,193.5h1.5M341.5,175V196M340,193.5h1.5M341.5,189.5h1.5M343.5,178V192M342,189.5h1.5M343.5,187.5h1.5M345.5,185V191M344,187.5h1.5M345.5,185.5h1.5M347.5,184V192M346,185.5h1.5M347.5,191.5h1.5M349.5,178V193M348,191.5h1.5M349.5,178.5h1.5M351.5,175V192M350,178.5h1.5M351.5,178.5h1.5M353.5,172V182M352,178.5h1.5M353.5,172.5h1.5M355.5,162V178M354,172.5h1.5M355.5,162.5h1.5M357.5,154V163M356,162.5h1.5M357.5,160.5h1.5M359.5,152V162M358,160.5h1.5M359.5,152.5h1.5M361.5,150V156M360,152.5h1.5M361.5,155.5h1.5M363.5,155V160M362,155.5h1.5M363.5,159.5h1.5M365.5,159V168M364,159.5h1.5M365.5,163.5h1.5M367.5,160V164M366,163.5h1.5M367.5,160.5h1.5M369.5,157V166M368,160.5h1.5M369.5,158.5h1.5M371.5,152V161M370,158.5h1.5M371.5,152.5h1.5M373.5,146V153M372,152.5h1.5M373.5,147.5h1.5M375.5,144V149M374,147.5h1.5M375.5,145.5h1.5M377.5,139V151M376,145.5h1.5M377.5,139.5h1.5M379.5,136V148M378,139.5h1.5M379.5,137.5h1.5M381.5,130V145M380,137.5h1.5M381.5,144.5h1.5M383.5,140V150M382,144.5h1.5M383.5,141.5h1.5M385.5,138V149M384,141.5h1.5M385.5,148.5h1.5M387.5,147V150M386,148.5h1.5M387.5,147.5h1.5M389.5,146V151M388,147.5h1.5M389.5,149.5h1.5M391.5,149V151M390,149.5h1.5M391.5,149.5h1.5M393.5,146V151M392,149.5h1.5M393.5,146.5h1.5M395.5,139V148M394,146.5h1.5M395.5,139.5h1.5M397.5,135V140M396,139.5h1.5M397.5,135.5h1.5M399.5,128V140M398,135.5h1.5M399.5,128.5h1.5M401.5,127V134M400,128.5h1.5M401.5,130.5h1.5M403.5,120V133M402,130.5h1.5M403.5,120.5h1.5M405.5,120V126M404,120.5h1.5M405.5,125.5h1.5M407.5,115V126M406,125.5h1.5M407.5,117.5h1.5M409.5,111V118M408,117.5h1.5M409.5,112.5h1.5M411.5,105V114M410,112.5h1.5M411.5,105.5h1.5M413.5,94V107M412,105.5h1.5M413.5,96.5h1.5M415.5,91V97M414,96.5h1.5M415.5,92.5h1.5M417.5,83V95M416,92.5h1.5M417.5,93.5h1.5M419.5,93V99M418,93.5h1.5M419.5,98.5h1.5M421.5,95V110M420,98.5h1.5M421.5,103.5h1.5M423.5,102V109M422,103.5h1.5M423.5,108.5h1.5M425.5,107V111M424,108.5h1.5M425.5,107.5h1.5M427.5,104V114M426,107.5h1.5M427.5,110.5h1.5M429.5,109V111M428,110.5h1.5M429.5,110.5h1.5M431.5,104V111M430,110.5h1.5M431.5,110.5h1.5M433.5,110V111M432,110.5h1.5M433.5,110.5h1.5M435.5,107V114M434,110.5h1.5M435.5,110.5h1.5M437.5,110V117M436,110.5h1.5M437.5,114.5h1.5M439.5,107V115M438,114.5h1.5M439.5,110.5h1.5M441.5,101V111M440,110.5h1.5M441.5,104.5h1.5M443.5,104V112M442,104.5h1.5M443.5,111.5h1.5M445.5,111V113M444,111.5h1.5M445.5,111.5h1.5M447.5,111V124M446,111.5h1.5M447.5,121.5h1.5M449.5,117V126M448,121.5h1.5M449.5,124.5h1.5M451.5,118V138M450,124.5h1.5M451.5,134.5h1.5M453.5,127V135M452,134.5h1.5M453.5,130.5h1.5M455.5,116V131M454,130.5h1.5M455.5,122.5h1.5M457.5,116V128M456,122.5h1.5M457.5,116.5h1.5M459.5,111V118M458,116.5h1.5M459.5,114.5h1.5M461.5,114V120M460,114.5h1.5M461.5,118.5h1.5M463.5,117V122M462,118.5h1.5M463.5,117.5h1.5M465.5,117V121M464,117.5h1.5M465.5,120.5h1.5M467.5,116V121M466,120.5h1.5M467.5,117.5h1.5M469.5,116V123M468,117.5h1.5M469.5,121.5h1.5M471.5,120V128M470,121.5h1.5M471.5,124.5h1.5M473.5,113V125M472,124.5h1.5M473.5,118.5h1.5M475.5,118V122M474,118.5h1.5M475.5,121.5h1.5M477.5,121V147M476,121.5h1.5M477.5,146.5h1.5M479.5,146V171M478,146.5h1.5M479.5,168.5h1.5M481.5,167V175M480,168.5h1.5M481.5,171.5h1.5M483.5,171V194M482,171.5h1.5M483.5,180.5h1.5M485.5,171V183M484,180.5h1.5M485.5,171.5h1.5M487.5,169V176M486,171.5h1.5M487.5,169.5h1.5M489.5,157V171M488,169.5h1.5M489.5,168.5h1.5M491.5,162V174M490,168.5h1.5M491.5,162.5h1.5M493.5,160V164M492,162.5h1.5M493.5,163.5h1.5M495.5,162V173M494,163.5h1.5M495.5,167.5h1.5M497.5,165V175M496,167.5h1.5M497.5,174.5h1.5M499.5,171V193M498,174.5h1.5M499.5,187.5h1.5M501.5,183V188M500,187.5h1.5M501.5,183.5h1.5M503.5,176V194M502,183.5h1.5M503.5,180.5h1.5M505.5,178V187M504,180.5h1.5M505.5,186.5h1.5M507.5,186V193M506,186.5h1.5M507.5,191.5h1.5M509.5,180V207M508,191.5h1.5M509.5,206.5h1.5M511.5,203V207M510,206.5h1.5M511.5,203.5h1.5M513.5,186V206M512,203.5h1.5M513.5,193.5h1.5M515.5,181V196M514,193.5h1.5M515.5,183.5h1.5M517.5,173V186M516,183.5h1.5M517.5,185.5h1.5M519.5,183V186M518,185.5h1.5M519.5,185.5h1.5M521.5,185V205M520,185.5h1.5M521.5,202.5h1.5M523.5,190V216M522,202.5h1.5M523.5,212.5h1.5M525.5,209V216M524,212.5h1.5M525.5,209.5h1.5M527.5,206V211M526,209.5h1.5M527.5,208.5h1.5M529.5,201V218M528,208.5h1.5M529.5,217.5h1.5M531.5,217V225M530,217.5h1.5M531.5,223.5h1.5M533.5,221V234M532,223.5h1.5M533.5,230.5h1.5M535.5,224V233M534,230.5h1.5M535.5,224.5h1.5M537.5,222V226M536,224.5h1.5M537.5,224.5h1.5M539.5,224V233M538,224.5h1.5M539.5,230.5h1.5M541.5,228V231M540,230.5h1.5M541.5,228.5h1.5M543.5,220V229M542,228.5h1.5M543.5,220.5h1.5M545.5,210V225M544,220.5h1.5M545.5,216.5h1.5M547.5,210V217M546,216.5h1.5M547.5,214.5h1.5M549.5,211V215M548,214.5h1.5M549.5,214.5h1.5M551.5,213V226M550,214.5h1.5M551.5,225.5h1.5M553.5,219V226M552,225.5h1.5M553.5,219.5h1.5M555.5,215V221M554,219.5h1.5M555.5,215.5h1.5M557.5,210V219M556,215.5h1.5M557.5,213.5h1.5M559.5,213V221M558,213.5h1.5M559.5,218.5h1.5M561.5,210V220M560,218.5h1.5M561.5,215.5h1.5M563.5,209V229M562,215.5h1.5M563.5,228.5h1.5M565.5,227V261M564,228.5h1.5M565.5,253.5h1.5M567.5,252V268M566,253.5h1.5M567.5,267.5h1.5M569.5,259V275M568,267.5h1.5M569.5,274.5h1.5M571.5,273V279M570,274.5h1.5M571.5,277.5h1.5M573.5,275V283M572,277.5h1.5M573.5,282.5h1.5M575.5,274V285M574,282.5h1.5M575.5,280.5h1.5M577.5,266V290M576,280.5h1.5M577.5,267.5h1.5M579.5,262V273M578,267.5h1.5M579.5,265.5h1.5M581.5,262V280M580,265.5h1.5M581.5,279.5h1.5M583.5,275V296M582,279.5h1.5M583.5,295.5h1.5M585.5,294V307M584,295.5h1.5M585.5,302.5h1.5M587.5,283V309M586,302.5h1.5M587.5,286.5h1.5M589.5,270V289M588,286.5h1.5M589.5,270.5h1.5M591.5,267V277M590,270.5h1.5M591.5,276.5h1.5M593.5,273V291M592,276.5h1.5M593.5,290.5h1.5M595.5,286V313M594,290.5h1.5M595.5,289.5h1.5M597.5,289V305M596,289.5h1.5M597.5,298.5h1.5M599.5,294V326M598,298.5h1.5M599.5,324.5h1.5M601.5,315V331M600,324.5h1.5M601.5,325.5h1.5M603.5,322V335M602,325.5h1.5M603.5,333.5h1.5M605.5,330V347M604,333.5h1.5M605.5,346.5h1.5M607.5,343V355M606,346.5h1.5M607.5,353.5h1.5M609.5,353V369M608,353.5h1.5M609.5,368.5h1.5M611.5,364V387M610,368.5h1.5M611.5,384.5h1.5M613.5,380V389M612,384.5h1.5M613.5,388.5h1.5M615.5,384V397M614,388.5h1.5M615.5,395.5h1.5M617.5,391V405M616,395.5h1.5M617.5,404.5h1.5M619.5,381V407M618,404.5h1.5M619.5,383.5h1.5M621.5,378V405M620,383.5h1.5M621.5,395.5h1.5M623.5,394V402M622,395.5h1.5M623.5,401.5h1.5M625.5,401V407M624,401.5h1.5M625.5,403.5h1.5M627.5,385V404M626,403.5h1.5M627.5,393.5h1.5M629.5,377V395M628,393.5h1.5M629.5,391.5h1.5M631.5,389V402M630,391.5h1.5M631.5,401.5h1.5M633.5,393V417M632,401.5h1.5M633.5,405.5h1.5M635.5,401V424M634,405.5h1.5M635.5,418.5h1.5M637.5,418V426M636,418.5h1.5M637.5,425.5h1.5M639.5,419V426M638,425.5h1.5M639.5,423.5h1.5M641.5,409V429M640,423.5h1.5M641.5,409.5h1.5M643.5,397V410M642,409.5h1.5M643.5,402.5h1.5M645.5,396V403M644,402.5h1.5M645.5,396.5h1.5M647.5,390V401M646,396.5h1.5M647.5,392.5h1.5M649.5,380V395M648,392.5h1.5M649.5,385.5h1.5M651.5,379V399M650,385.5h1.5M651.5,396.5h1.5M653.5,380V407M652,396.5h1.5M653.5,404.5h1.5M655.5,401V410M654,404.5h1.5M655.5,401.5h1.5M657.5,397V409M656,401.5h1.5M657.5,406.5h1.5M659.5,405V415M658,406.5h1.5M659.5,414.5h1.5M661.5,413V419M660,414.5h1.5M661.5,418.5h1.5M663.5,418V425M662,418.5h1.5M663.5,418.5h1.5M665.5,418V422M664,418.5h1.5M665.5,421.5h1.5M667.5,421V423M666,421.5h1.5M667.5,422.5h1.5"/>
<text x="664.7" y="198" fill="#00ff00" textLength="23.6" lengthAdjust="spacingAndGlyphs">2338</text>
<g shape-rendering="crispEdges" fill="#000"><rect x="1" y="14" width="727" height="1"/><rect x="1" y="14" width="1" height="487"/><rect x="727" y="14" width="1" height="487"/><rect x="1" y="500" width="727" height="1"/></g>
<g fill="#000"><text x="731.5" y="26" textLength="17.8" lengthAdjust="spacingAndGlyphs">XXP</text><rect x="730" y="60" width="4" height="1" shape-rendering="crispEdges"/><text x="735.8" y="64.7" textLength="23.2" lengthAdjust="spacingAndGlyphs">3200</text><rect x="730" y="89" width="4" height="1" shape-rendering="crispEdges"/><text x="735.8" y="94.0" textLength="23.2" lengthAdjust="spacingAndGlyphs">3000</text><rect x="730" y="119" width="4" height="1" shape-rendering="crispEdges"/><text x="735.8" y="123.2" textLength="23.2" lengthAdjust="spacingAndGlyphs">2800</text><rect x="730" y="148" width="4" height="1" shape-rendering="crispEdges"/><text x="735.8" y="152.5" textLength="23.2" lengthAdjust="spacingAndGlyphs">2600</text><rect x="730" y="177" width="4" height="1" shape-rendering="crispEdges"/><text x="735.8" y="181.8" textLength="23.2" lengthAdjust="spacingAndGlyphs">2400</text><rect x="730" y="206" width="4" height="1" shape-rendering="crispEdges"/><text x="735.8" y="211.0" textLength="23.2" lengthAdjust="spacingAndGlyphs">2200</text><rect x="730" y="236" width="4" height="1" shape-rendering="crispEdges"/><text x="735.8" y="240.3" textLength="23.2" lengthAdjust="spacingAndGlyphs">2000</text><rect x="730" y="265" width="4" height="1" shape-rendering="crispEdges"/><text x="735.8" y="269.6" textLength="23.2" lengthAdjust="spacingAndGlyphs">1800</text><rect x="730" y="294" width="4" height="1" shape-rendering="crispEdges"/><text x="735.8" y="298.9" textLength="23.2" lengthAdjust="spacingAndGlyphs">1600</text><rect x="730" y="323" width="4" height="1" shape-rendering="crispEdges"/><text x="735.8" y="328.1" textLength="23.2" lengthAdjust="spacingAndGlyphs">1400</text><rect x="730" y="353" width="4" height="1" shape-rendering="crispEdges"/><text x="735.8" y="357.4" textLength="23.2" lengthAdjust="spacingAndGlyphs">1200</text><rect x="730" y="382" width="4" height="1" shape-rendering="crispEdges"/><text x="735.8" y="386.7" textLength="23.2" lengthAdjust="spacingAndGlyphs">1000</text><rect x="730" y="411" width="4" height="1" shape-rendering="crispEdges"/><text x="735.8" y="415.9" textLength="17.4" lengthAdjust="spacingAndGlyphs">800</text><rect x="730" y="441" width="4" height="1" shape-rendering="crispEdges"/><text x="735.8" y="445.2" textLength="17.4" lengthAdjust="spacingAndGlyphs">600</text><rect x="730" y="470" width="4" height="1" shape-rendering="crispEdges"/><text x="735.8" y="474.5" textLength="17.4" lengthAdjust="spacingAndGlyphs">400</text></g>
<g fill="#000"><rect x="21" y="504" width="1" height="4" shape-rendering="crispEdges"/><text x="23" y="517" textLength="17.6" lengthAdjust="spacingAndGlyphs">Aug</text><rect x="65" y="504" width="1" height="4" shape-rendering="crispEdges"/><text x="67" y="517" textLength="17.3" lengthAdjust="spacingAndGlyphs">Sep</text><rect x="104" y="504" width="1" height="4" shape-rendering="crispEdges"/><text x="106" y="517" textLength="16.2" lengthAdjust="spacingAndGlyphs">Okt</text><rect x="148" y="504" width="1" height="4" shape-rendering="crispEdges"/><text x="150" y="517" textLength="17.7" lengthAdjust="spacingAndGlyphs">Nov</text><rect x="190" y="504" width="1" height="4" shape-rendering="crispEdges"/><text x="192" y="517" textLength="17.3" lengthAdjust="spacingAndGlyphs">Dez</text><rect x="229" y="504" width="1" height="4" shape-rendering="crispEdges"/><text x="231" y="517" textLength="23.3" lengthAdjust="spacingAndGlyphs">2008</text><rect x="271" y="504" width="1" height="4" shape-rendering="crispEdges"/><text x="273" y="517" textLength="16.6" lengthAdjust="spacingAndGlyphs">Feb</text><rect x="312" y="504" width="1" height="4" shape-rendering="crispEdges"/><text x="314" y="517" textLength="15.8" lengthAdjust="spacingAndGlyphs">Mrz</text><rect x="350" y="504" width="1" height="4" shape-rendering="crispEdges"/><text x="352" y="517" textLength="15.6" lengthAdjust="spacingAndGlyphs">Apr</text><rect x="393" y="504" width="1" height="4" shape-rendering="crispEdges"/><text x="395" y="517" textLength="15.6" lengthAdjust="spacingAndGlyphs">Mai</text><rect x="435" y="504" width="1" height="4" shape-rendering="crispEdges"/><text x="437" y="517" textLength="15.6" lengthAdjust="spacingAndGlyphs">Jun</text><rect x="476" y="504" width="1" height="4" shape-rendering="crispEdges"/><text x="478" y="517" textLength="12" lengthAdjust="spacingAndGlyphs">Jul</text><rect x="520" y="504" width="1" height="4" shape-rendering="crispEdges"/><text x="522" y="517" textLength="17.6" lengthAdjust="spacingAndGlyphs">Aug</text><rect x="561" y="504" width="1" height="4" shape-rendering="crispEdges"/><text x="563" y="517" textLength="17.3" lengthAdjust="spacingAndGlyphs">Sep</text><rect x="603" y="504" width="1" height="4" shape-rendering="crispEdges"/><text x="605" y="517" textLength="16.2" lengthAdjust="spacingAndGlyphs">Okt</text><rect x="647" y="504" width="1" height="4" shape-rendering="crispEdges"/><text x="649" y="517" textLength="17.7" lengthAdjust="spacingAndGlyphs">Nov</text><rect x="686" y="504" width="1" height="4" shape-rendering="crispEdges"/><text x="688" y="517" textLength="17.3" lengthAdjust="spacingAndGlyphs">Dez</text></g>
<text x="-0.5" y="10.5" fill="#000" textLength="69.2" lengthAdjust="spacingAndGlyphs">toni.maccaroni</text><text x="713.4" y="10.5" fill="#000" textLength="54.8" lengthAdjust="spacingAndGlyphs">15.11.2008</text><path d="M4,24 L8.6,17 L11.6,23 L17.2,23 L12.8,29.6 L10,24Z" fill="#000"/>
<path shape-rendering="crispEdges" stroke="#ff0000" stroke-width="1" fill="none" d="M10.5,32V44M7,40.5h3.5M10.5,36.5h3.5"/>
<text x="18" y="27" fill="#000" textLength="75.5" lengthAdjust="spacingAndGlyphs">THYSSENKRUPP</text><text x="97.4" y="27" fill="#000" textLength="13" lengthAdjust="spacingAndGlyphs">AG</text><text x="114" y="27" fill="#000" textLength="22.5" lengthAdjust="spacingAndGlyphs">O.N.</text><text x="140" y="27" fill="#000" textLength="23.5" lengthAdjust="spacingAndGlyphs">[TKA</text><text x="167" y="27" fill="#000" textLength="18" lengthAdjust="spacingAndGlyphs">GER</text><text x="192" y="27" fill="#000" textLength="36" lengthAdjust="spacingAndGlyphs">Täglich]</text><text x="232" y="27" fill="#000" textLength="50.4" lengthAdjust="spacingAndGlyphs">[High Low]</text><text x="286.6" y="27" fill="#000" textLength="54.4" lengthAdjust="spacingAndGlyphs">14.11.2008</text><text x="345" y="27" fill="#000" textLength="3.5" lengthAdjust="spacingAndGlyphs">-</text><text x="352" y="27" fill="#ff0000" textLength="38" lengthAdjust="spacingAndGlyphs">O:14,11</text><text x="394.5" y="27" fill="#000" textLength="38.5" lengthAdjust="spacingAndGlyphs">H:14,29</text><text x="437" y="27" fill="#000" textLength="36.6" lengthAdjust="spacingAndGlyphs">L:13,46</text><text x="477" y="27" fill="#ff0000" textLength="38.6" lengthAdjust="spacingAndGlyphs">C:13,59</text>
<text x="18" y="42" fill="#ff0000" textLength="28.5" lengthAdjust="spacingAndGlyphs">STEEL</text><text x="50" y="42" fill="#ff0000" textLength="28.5" lengthAdjust="spacingAndGlyphs">INDEX</text><text x="82" y="42" fill="#ff0000" textLength="48" lengthAdjust="spacingAndGlyphs">[.STEEL.X</text><text x="136" y="42" fill="#ff0000" textLength="36.5" lengthAdjust="spacingAndGlyphs">Täglich]</text><text x="177" y="42" fill="#000" textLength="53.7" lengthAdjust="spacingAndGlyphs">14.11.2008</text><text x="234.5" y="42" fill="#000" textLength="3.5" lengthAdjust="spacingAndGlyphs">-</text><text x="241.7" y="42" fill="#000" textLength="29.3" lengthAdjust="spacingAndGlyphs">O:788</text><text x="275" y="42" fill="#000" textLength="28" lengthAdjust="spacingAndGlyphs">H:788</text><text x="307" y="42" fill="#000" textLength="25.5" lengthAdjust="spacingAndGlyphs">L:721</text><text x="337" y="42" fill="#00c000" textLength="28.5" lengthAdjust="spacingAndGlyphs">C:722</text>
<text x="4.5" y="57.6" fill="#000" textLength="9.5" lengthAdjust="spacingAndGlyphs">©</text><text x="17" y="57.6" fill="#000" textLength="131" lengthAdjust="spacingAndGlyphs">www.tradesignalonline.com</text>
</svg>
</body></html>
